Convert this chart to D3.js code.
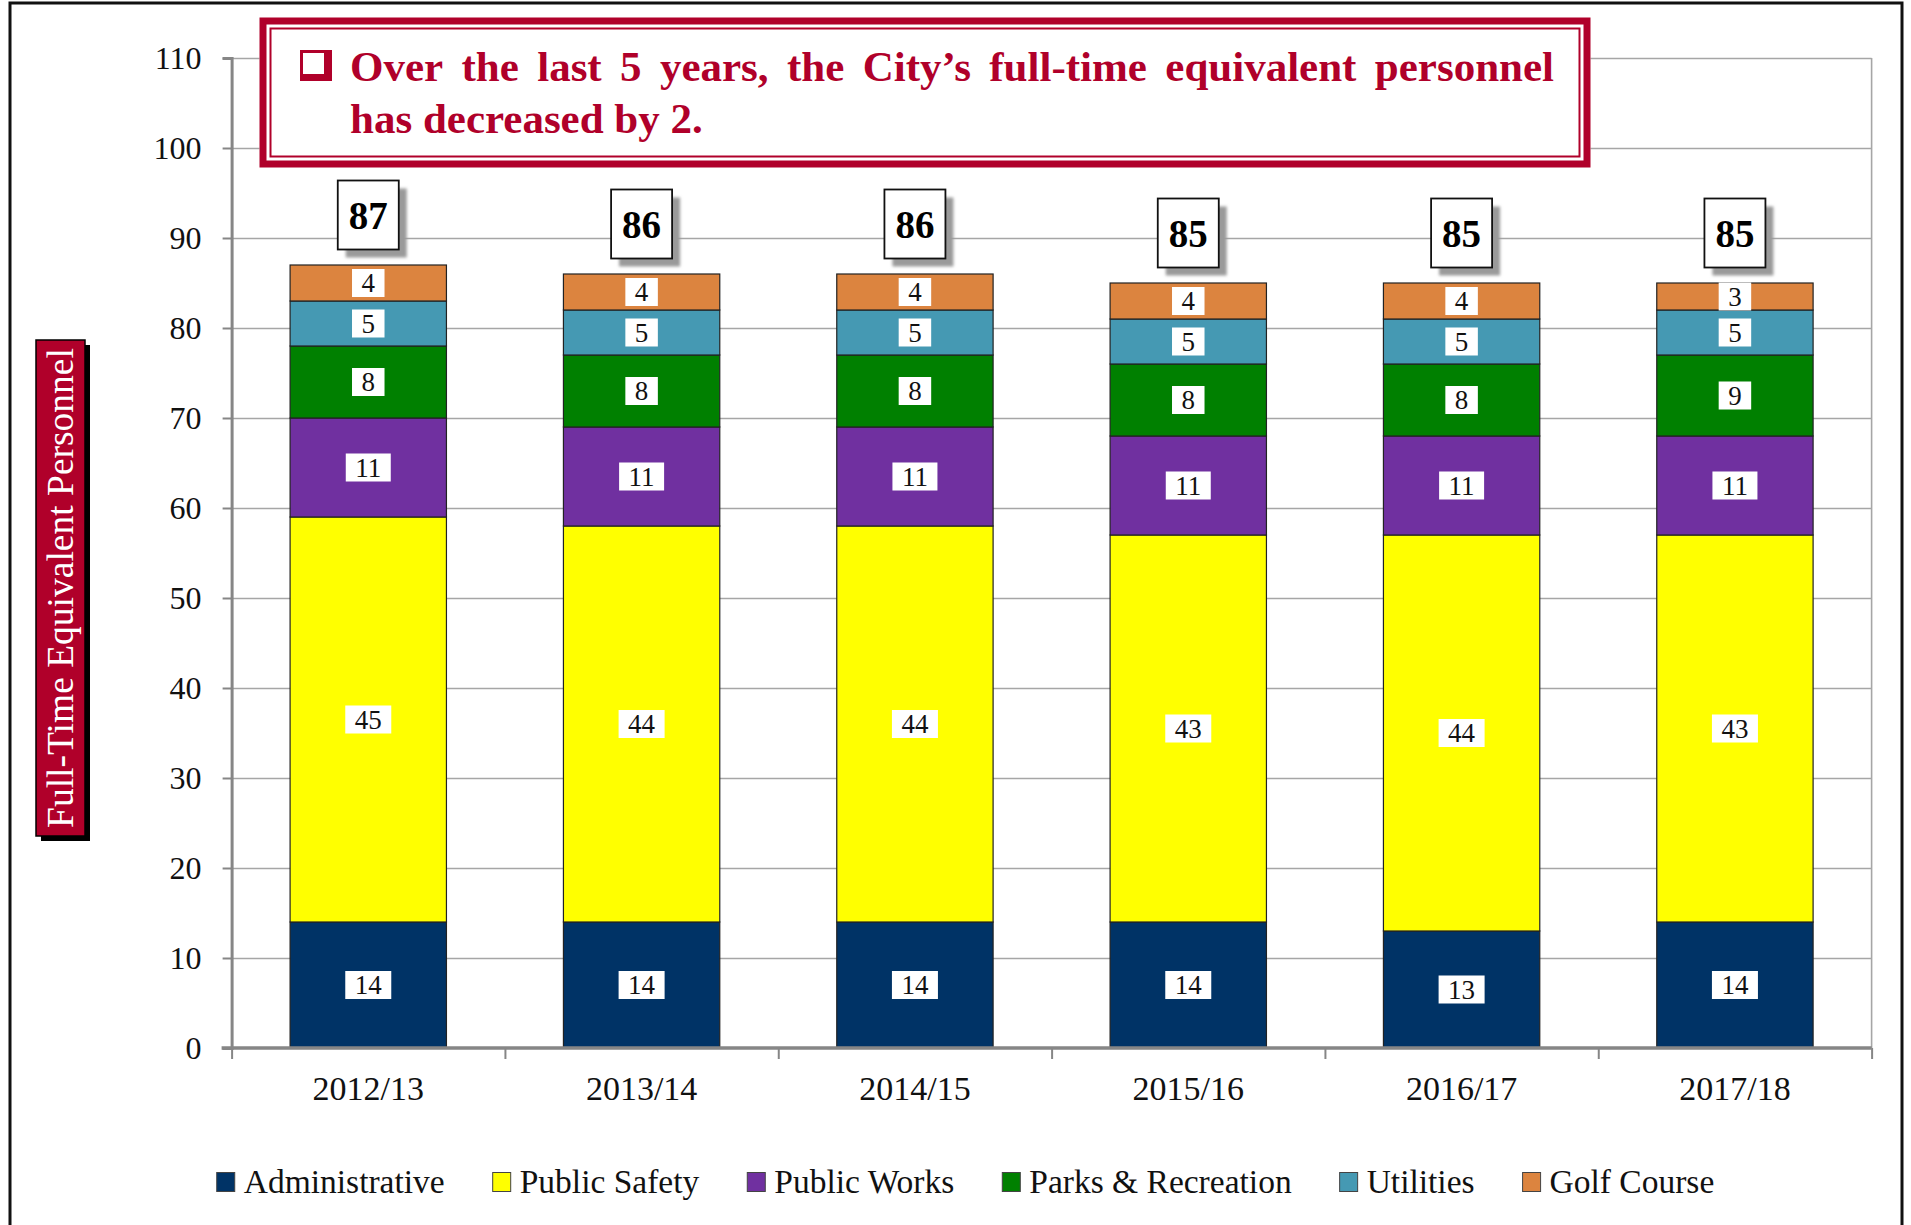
<!DOCTYPE html>
<html><head><meta charset="utf-8">
<script src="https://cdn.jsdelivr.net/npm/d3@7"></script>
<style>
html,body{margin:0;padding:0;background:#fff;}
svg{display:block;font-family:"Liberation Serif","Times New Roman",serif;}
</style></head>
<body>
<svg id="chart" width="1911" height="1225"></svg>
<script>
const categories = ["2012/13","2013/14","2014/15","2015/16","2016/17","2017/18"];
const seriesNames = ["Administrative","Public Safety","Public Works","Parks & Recreation","Utilities","Golf Course"];
const administrative  = [14,14,14,14,13,14];
const publicSafety    = [45,44,44,43,44,43];
const publicWorks     = [11,11,11,11,11,11];
const parksRecreation = [8,8,8,8,8,9];
const utilities       = [5,5,5,5,5,5];
const golfCourse      = [4,4,4,4,4,3];
const seriesColors = ["#003366","#FFFF00","#7030A0","#008000","#4599B3","#DC843F"];
const yTickValues = [0,10,20,30,40,50,60,70,80,90,100,110];
const titleLine1 = "Over the last 5 years, the City\u2019s full-time equivalent personnel";
const titleLine2 = "has decreased by 2.";
const yAxisTitle = "Full-Time Equivalent Personnel";

(function(){
const seriesValues = [administrative, publicSafety, publicWorks, parksRecreation, utilities, golfCourse];
const rows = categories.map((c,i)=>{
  const r = {cat:c};
  seriesNames.forEach((s,j)=> r[s] = seriesValues[j][i]);
  return r;
});
const totals = rows.map(r => d3.sum(seriesNames, s => r[s]));

const svg = d3.select("#chart");
const RED = "#B0002A";
const FONT = "'Liberation Serif','Times New Roman',serif";

const defs = svg.append("defs");
defs.append("filter").attr("id","blur").attr("x","-20%").attr("y","-20%").attr("width","140%").attr("height","140%")
  .append("feGaussianBlur").attr("stdDeviation",1.6);

// outer frame
svg.append("rect").attr("x",10).attr("y",3).attr("width",1892).attr("height",1260)
  .attr("fill","none").attr("stroke","#111").attr("stroke-width",3);

const pL = 231.6, pR = 1871.6, pT = 58, pB = 1048;
const x = d3.scaleBand().domain(categories).range([pL,pR]).paddingInner(0.428).paddingOuter(0.214);
const y = d3.scaleLinear().domain([0,110]).range([pB,pT]);
const xEdge = d3.scaleLinear().domain([0,categories.length]).range([pL,pR]);

// gridlines
const grid = svg.append("g").attr("transform",`translate(${pL},0)`)
  .call(d3.axisLeft(y).tickValues(yTickValues.filter(v=>v>0)).tickSize(-(pR-pL)).tickFormat(""));
grid.select(".domain").remove();
grid.selectAll(".tick line").attr("stroke","#A6A6A6").attr("stroke-width",1.6);

svg.append("line").attr("x1",pR).attr("x2",pR).attr("y1",pT).attr("y2",pB)
  .attr("stroke","#A6A6A6").attr("stroke-width",1.6);

// y axis
const yAxis = svg.append("g").attr("transform",`translate(${pL},0)`)
  .call(d3.axisLeft(y).tickValues(yTickValues).tickSize(9).tickPadding(21).tickFormat(d3.format("d")));
yAxis.select(".domain").attr("stroke","#868686").attr("stroke-width",3);
yAxis.selectAll(".tick line").attr("stroke","#868686").attr("stroke-width",2);
yAxis.selectAll(".tick text").attr("font-family",FONT).attr("font-size",32).attr("fill","#111");

// stacked bars
const stack = d3.stack().keys(seriesNames)(rows);
const layers = svg.append("g").selectAll("g").data(stack).join("g")
  .attr("fill",(d,i)=>seriesColors[i]);
layers.selectAll("rect").data(d=>d).join("rect")
  .attr("x",d=>x(d.data.cat)).attr("width",x.bandwidth())
  .attr("y",d=>y(d[1])).attr("height",d=>y(d[0])-y(d[1]))
  .attr("stroke","#222").attr("stroke-width",1.2);

// x axis ticks at band edges
const xTicks = svg.append("g").attr("transform",`translate(0,${pB})`)
  .call(d3.axisBottom(xEdge).tickValues(d3.range(categories.length+1)).tickSize(11).tickFormat(""));
xTicks.select(".domain").remove();
xTicks.selectAll(".tick line").attr("stroke","#868686").attr("stroke-width",2);
svg.append("line").attr("x1",pL-10).attr("x2",pR).attr("y1",pB).attr("y2",pB)
  .attr("stroke","#868686").attr("stroke-width",3.5);
const xAxis = svg.append("g").attr("transform",`translate(0,${pB})`)
  .call(d3.axisBottom(x).tickSize(0).tickPadding(28));
xAxis.select(".domain").remove();
xAxis.selectAll(".tick text").attr("font-family",FONT).attr("font-size",34).attr("fill","#111");

// segment labels
const segG = svg.append("g");
stack.forEach((layer,i)=>{
  layer.forEach(d=>{
    const val = d[1]-d[0];
    const cx = x(d.data.cat)+x.bandwidth()/2;
    const cy = y((d[0]+d[1])/2);
    const g = segG.append("g");
    const t = g.append("text").attr("x",cx).attr("y",cy).attr("text-anchor","middle")
      .attr("dy","0.35em").attr("font-family",FONT).attr("font-size",27).attr("fill","#111").text(val);
    const w = t.node().getComputedTextLength();
    g.insert("rect","text").attr("x",cx-w/2-9.5).attr("y",cy-14).attr("width",w+19).attr("height",28).attr("fill","#fff");
  });
});

// total boxes
const totG = svg.append("g");
categories.forEach((c,i)=>{
  const cx = x(c)+x.bandwidth()/2;
  const cy = y(totals[i]) - 50;
  const bw = 61, bh = 69;
  totG.append("rect").attr("x",cx-bw/2+8).attr("y",cy-bh/2+8).attr("width",bw).attr("height",bh)
    .attr("fill","#9a9a9a").attr("filter","url(#blur)");
  totG.append("rect").attr("x",cx-bw/2).attr("y",cy-bh/2).attr("width",bw).attr("height",bh)
    .attr("fill","#fff").attr("stroke","#111").attr("stroke-width",1.8);
  totG.append("text").attr("x",cx).attr("y",cy).attr("dy","0.35em").attr("text-anchor","middle")
    .attr("font-family",FONT).attr("font-weight","bold").attr("font-size",39).attr("fill","#000").text(totals[i]);
});

// title box
const tb = {x:259.5, y:17.5, w:1331, h:150};
svg.append("rect").attr("x",tb.x).attr("y",tb.y).attr("width",tb.w).attr("height",tb.h).attr("fill","#fff");
svg.append("rect").attr("x",tb.x+3.5).attr("y",tb.y+3.5).attr("width",tb.w-7).attr("height",tb.h-7)
  .attr("fill","none").attr("stroke",RED).attr("stroke-width",7);
svg.append("rect").attr("x",tb.x+11).attr("y",tb.y+11).attr("width",tb.w-22).attr("height",tb.h-22)
  .attr("fill","none").attr("stroke",RED).attr("stroke-width",2);
svg.append("rect").attr("x",300).attr("y",50).attr("width",32).attr("height",31).attr("fill",RED);
svg.append("rect").attr("x",303).attr("y",53).attr("width",21).attr("height",21).attr("fill","#fff");
const words = titleLine1.split(" ");
const l1x0 = 350, l1x1 = 1554;
const tmp = svg.append("g");
const widths = words.map(wd=>{
  const t = tmp.append("text").attr("font-family",FONT).attr("font-weight","bold").attr("font-size",43).text(wd);
  return t.node().getComputedTextLength();
});
tmp.remove();
const gap = (l1x1-l1x0-d3.sum(widths))/(words.length-1);
let tx = l1x0;
const titleG = svg.append("g").attr("font-family",FONT).attr("font-weight","bold").attr("font-size",43).attr("fill",RED);
const line1 = titleG.append("text").attr("y",81);
words.forEach((wd,i)=>{
  line1.append("tspan").attr("x",tx).text(wd);
  tx += widths[i]+gap;
});
titleG.append("text").attr("x",l1x0).attr("y",133).text(titleLine2);

// y axis title
svg.append("rect").attr("x",41).attr("y",345).attr("width",49).attr("height",496).attr("fill","#000");
svg.append("rect").attr("x",36).attr("y",340).attr("width",49).attr("height",496).attr("fill",RED)
  .attr("stroke","#000").attr("stroke-width",1.5);
svg.append("text").attr("transform","translate(72.5,588) rotate(-90)").attr("text-anchor","middle")
  .attr("font-family",FONT).attr("font-size",37.5).attr("fill","#fff").text(yAxisTitle);

// legend
const leg = svg.append("g");
let lx = 0;
seriesNames.forEach((s,i)=>{
  const g = leg.append("g").attr("transform",`translate(${lx},0)`);
  g.append("rect").attr("x",0).attr("y",-9.5).attr("width",18).attr("height",19)
    .attr("fill",seriesColors[i]).attr("stroke","#444").attr("stroke-width",1);
  const t = g.append("text").attr("x",27).attr("y",11).attr("font-family",FONT).attr("font-size",33.5).attr("fill","#111").text(s);
  lx += 27 + t.node().getComputedTextLength() + 48;
});
const legW = lx - 48;
leg.attr("transform",`translate(${965.5-legW/2},1182)`);
})();
</script>
</body></html>
